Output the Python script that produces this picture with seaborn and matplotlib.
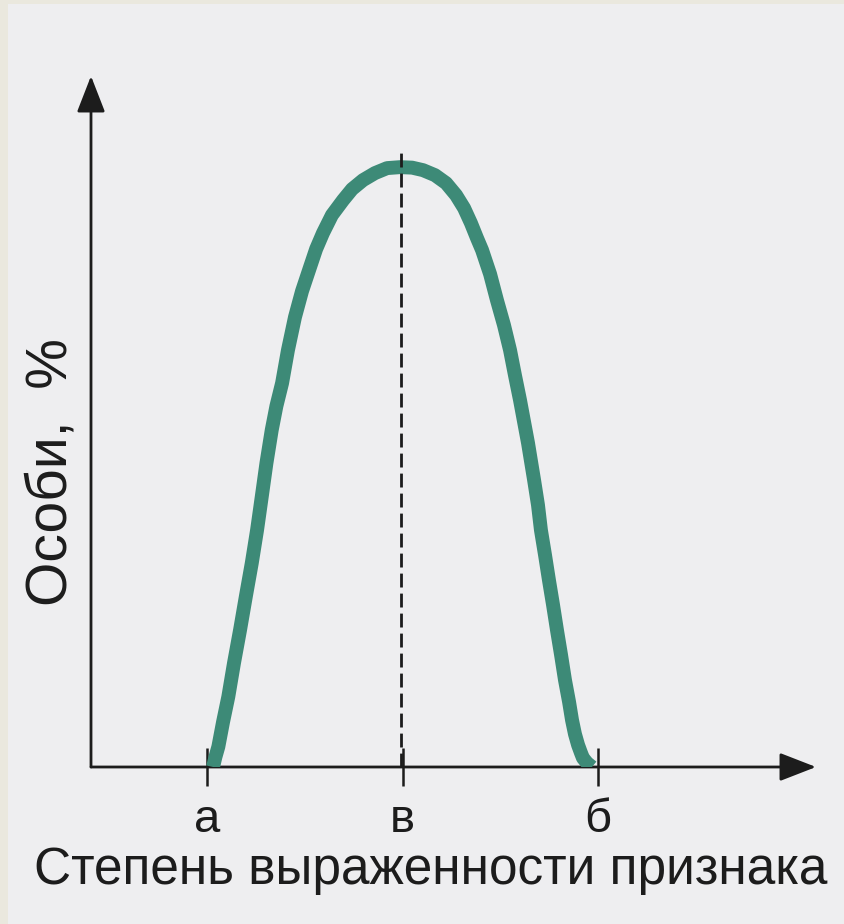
"""
Норма реакции: распределение особей по степени выраженности признака.
"""

import matplotlib
matplotlib.use("Agg")
import matplotlib.pyplot as plt
from matplotlib.patches import Rectangle
import seaborn as sns

# curve: x in tick units (а=1, в=2, б=3), y in % of the peak
curve_x = [1.031, 1.043, 1.058, 1.082, 1.109, 1.138, 1.169, 1.199, 1.229, 1.256,
           1.280, 1.304, 1.331, 1.355, 1.384, 1.414, 1.450, 1.486, 1.527, 1.558,
           1.593, 1.639, 1.696, 1.742, 1.798, 1.859, 1.921, 1.987,
           2.049, 2.105, 2.166, 2.223, 2.274, 2.315, 2.350, 2.381, 2.407, 2.448,
           2.483, 2.519, 2.550, 2.575, 2.601, 2.621, 2.642, 2.657, 2.673, 2.693,
           2.708, 2.729, 2.749, 2.770, 2.790, 2.811, 2.831, 2.852, 2.867, 2.882,
           2.898, 2.913, 2.923, 2.944, 2.969]
curve_y = [0, 1.66, 3.38, 7.49, 11.70, 17.30, 22.80, 28.45, 33.94, 39.43,
           44.98, 50.58, 56.07, 60.07, 63.89, 69.38, 74.88, 79.20, 83.19, 86.19,
           88.85, 91.85, 94.34, 96.17, 97.67, 98.84, 99.67, 99.83,
           99.75, 99.33, 98.50, 97.17, 95.17, 93.01, 90.52, 88.02, 86.02, 82.03,
           77.70, 73.54, 69.38, 65.22, 61.06, 57.57, 53.91, 50.92, 47.75, 43.59,
           39.43, 35.27, 31.11, 26.96, 22.80, 18.64, 14.48, 10.82, 7.82, 5.49,
           3.66, 2.33, 1.50, 0.67, 0]

tick_pos = [1, 2, 3]
tick_labels = ["а", "в", "б"]
mode_x = 1.99          # пунктир через вершину
mode_line_top = 102.7

x_label = "Степень выраженности признака"
y_label = "Особи,  %"

CURVE_COLOR = "#3d8a77"
INK = "#1c1c1c"

sns.set_style("white")
plt.rcParams["font.family"] = ["Liberation Sans", "DejaVu Sans"]

fig = plt.figure(figsize=(8.44, 9.24), dpi=100, facecolor="#eae8de")
fig.patches.append(Rectangle((8 / 844, 0), 1, (924 - 4) / 924, transform=fig.transFigure,
                             facecolor="#eeeef0", edgecolor="none", zorder=-10))

ax = fig.add_axes([91 / 844, (924 - 767) / 924, (816 - 91) / 844, (767 - 76) / 924])
ax.set_facecolor("none")

ax.vlines(mode_x, 0, mode_line_top, colors=INK, linewidth=2.0,
          linestyles=(0, (5, 2.2)), zorder=4)
sns.lineplot(x=curve_x, y=curve_y, sort=False, color=CURVE_COLOR, linewidth=10,
             ax=ax, zorder=3, solid_capstyle="butt", solid_joinstyle="round")

ax.set_xlim(0.4066, 4.115)
ax.set_ylim(0, 115)

for s in ax.spines.values():
    s.set_visible(False)

# axes as arrows
arrow = dict(arrowstyle="-|>,head_length=0.9,head_width=0.35", color=INK, lw=2,
             mutation_scale=25, shrinkA=0, shrinkB=0)
ax.annotate("", xy=(1, 0), xytext=(0, 0), xycoords="axes fraction", arrowprops=arrow, zorder=2)
ax.annotate("", xy=(0, 1), xytext=(0, 0), xycoords="axes fraction", arrowprops=arrow, zorder=2)

ax.set_xticks(tick_pos)
ax.set_xticklabels(tick_labels, fontsize=34, color=INK)
ax.set_yticks([])
ax.tick_params(axis="x", bottom=True, direction="inout", length=28, width=1.8,
               color=INK, pad=8)

ax.set_xlabel(x_label, fontsize=37, color=INK)
ax.xaxis.set_label_coords(0.469, -0.114)
fig.text(52 / 844, 1 - 472 / 924, y_label, fontsize=41, color=INK,
         rotation=90, ha="center", va="center")

fig.savefig("out.png", dpi=100, facecolor=fig.get_facecolor())
